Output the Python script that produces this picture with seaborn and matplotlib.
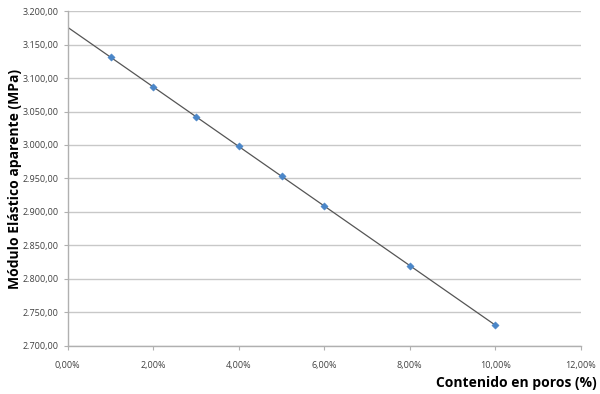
import numpy as np
import pandas as pd
import matplotlib
matplotlib.use("Agg")
import matplotlib.pyplot as plt
import seaborn as sns
from matplotlib.ticker import FuncFormatter, MultipleLocator

porosity = [1, 2, 3, 4, 5, 6, 8, 10]
modulus = [3131, 3087, 3042, 2998, 2953, 2909, 2820, 2731]
trend_x = [0, 10]

sns.set_theme(style="white")
plt.rcParams['font.family'] = ['Open Sans', 'DejaVu Sans']

df = pd.DataFrame({"x": porosity, "y": modulus})
slope, intercept = np.polyfit(porosity, modulus, 1)
tr = pd.DataFrame({"x": trend_x, "y": [intercept + slope * v for v in trend_x]})

fig = plt.figure(figsize=(6, 3.94), dpi=100)
ax = fig.add_axes([0.113, 0.122, 0.855, 0.850])

sns.lineplot(data=tr, x="x", y="y", ax=ax, color="#555555", linewidth=0.9, zorder=2)
sns.scatterplot(data=df, x="x", y="y", ax=ax, color="#4a86c8", s=14, marker="D",
                edgecolor="#4a86c8", linewidth=0.3, zorder=3)

ax.set_xlim(0, 12)
ax.set_ylim(2700, 3200)
ax.xaxis.set_major_locator(MultipleLocator(2))
ax.yaxis.set_major_locator(MultipleLocator(50))

def fmt_pct(v, pos):
    return f"{v:.2f}".replace(".", ",") + "%"

def fmt_y(v, pos):
    s = f"{v:,.2f}"
    return s.replace(",", "X").replace(".", ",").replace("X", ".")

ax.xaxis.set_major_formatter(FuncFormatter(fmt_pct))
ax.yaxis.set_major_formatter(FuncFormatter(fmt_y))

ax.grid(axis="y", color="#c8c8c8", linewidth=1.0)
ax.set_axisbelow(True)
for s in ["top", "right"]:
    ax.spines[s].set_visible(False)
for s in ["left", "bottom"]:
    ax.spines[s].set_color("#b0b0b0")
    ax.spines[s].set_linewidth(1.0)

ax.tick_params(axis="both", labelsize=6.5, colors="#404040", length=3, width=0.8,
               direction="out", bottom=True, left=True)
ax.tick_params(axis="both", color="#b0b0b0")
ax.tick_params(axis="x", pad=8)

ax.set_xlabel("")
ax.set_ylabel("")
fig.text(0.995, 0.028, "Contenido en poros (%)", ha="right", va="center",
         fontsize=10, fontweight="bold", color="black")
fig.text(0.025, 0.545, "Módulo Elástico aparente (MPa)", ha="center", va="center",
         rotation=90, fontsize=10, fontweight="bold", color="black")

fig.savefig("out.png", dpi=100)
